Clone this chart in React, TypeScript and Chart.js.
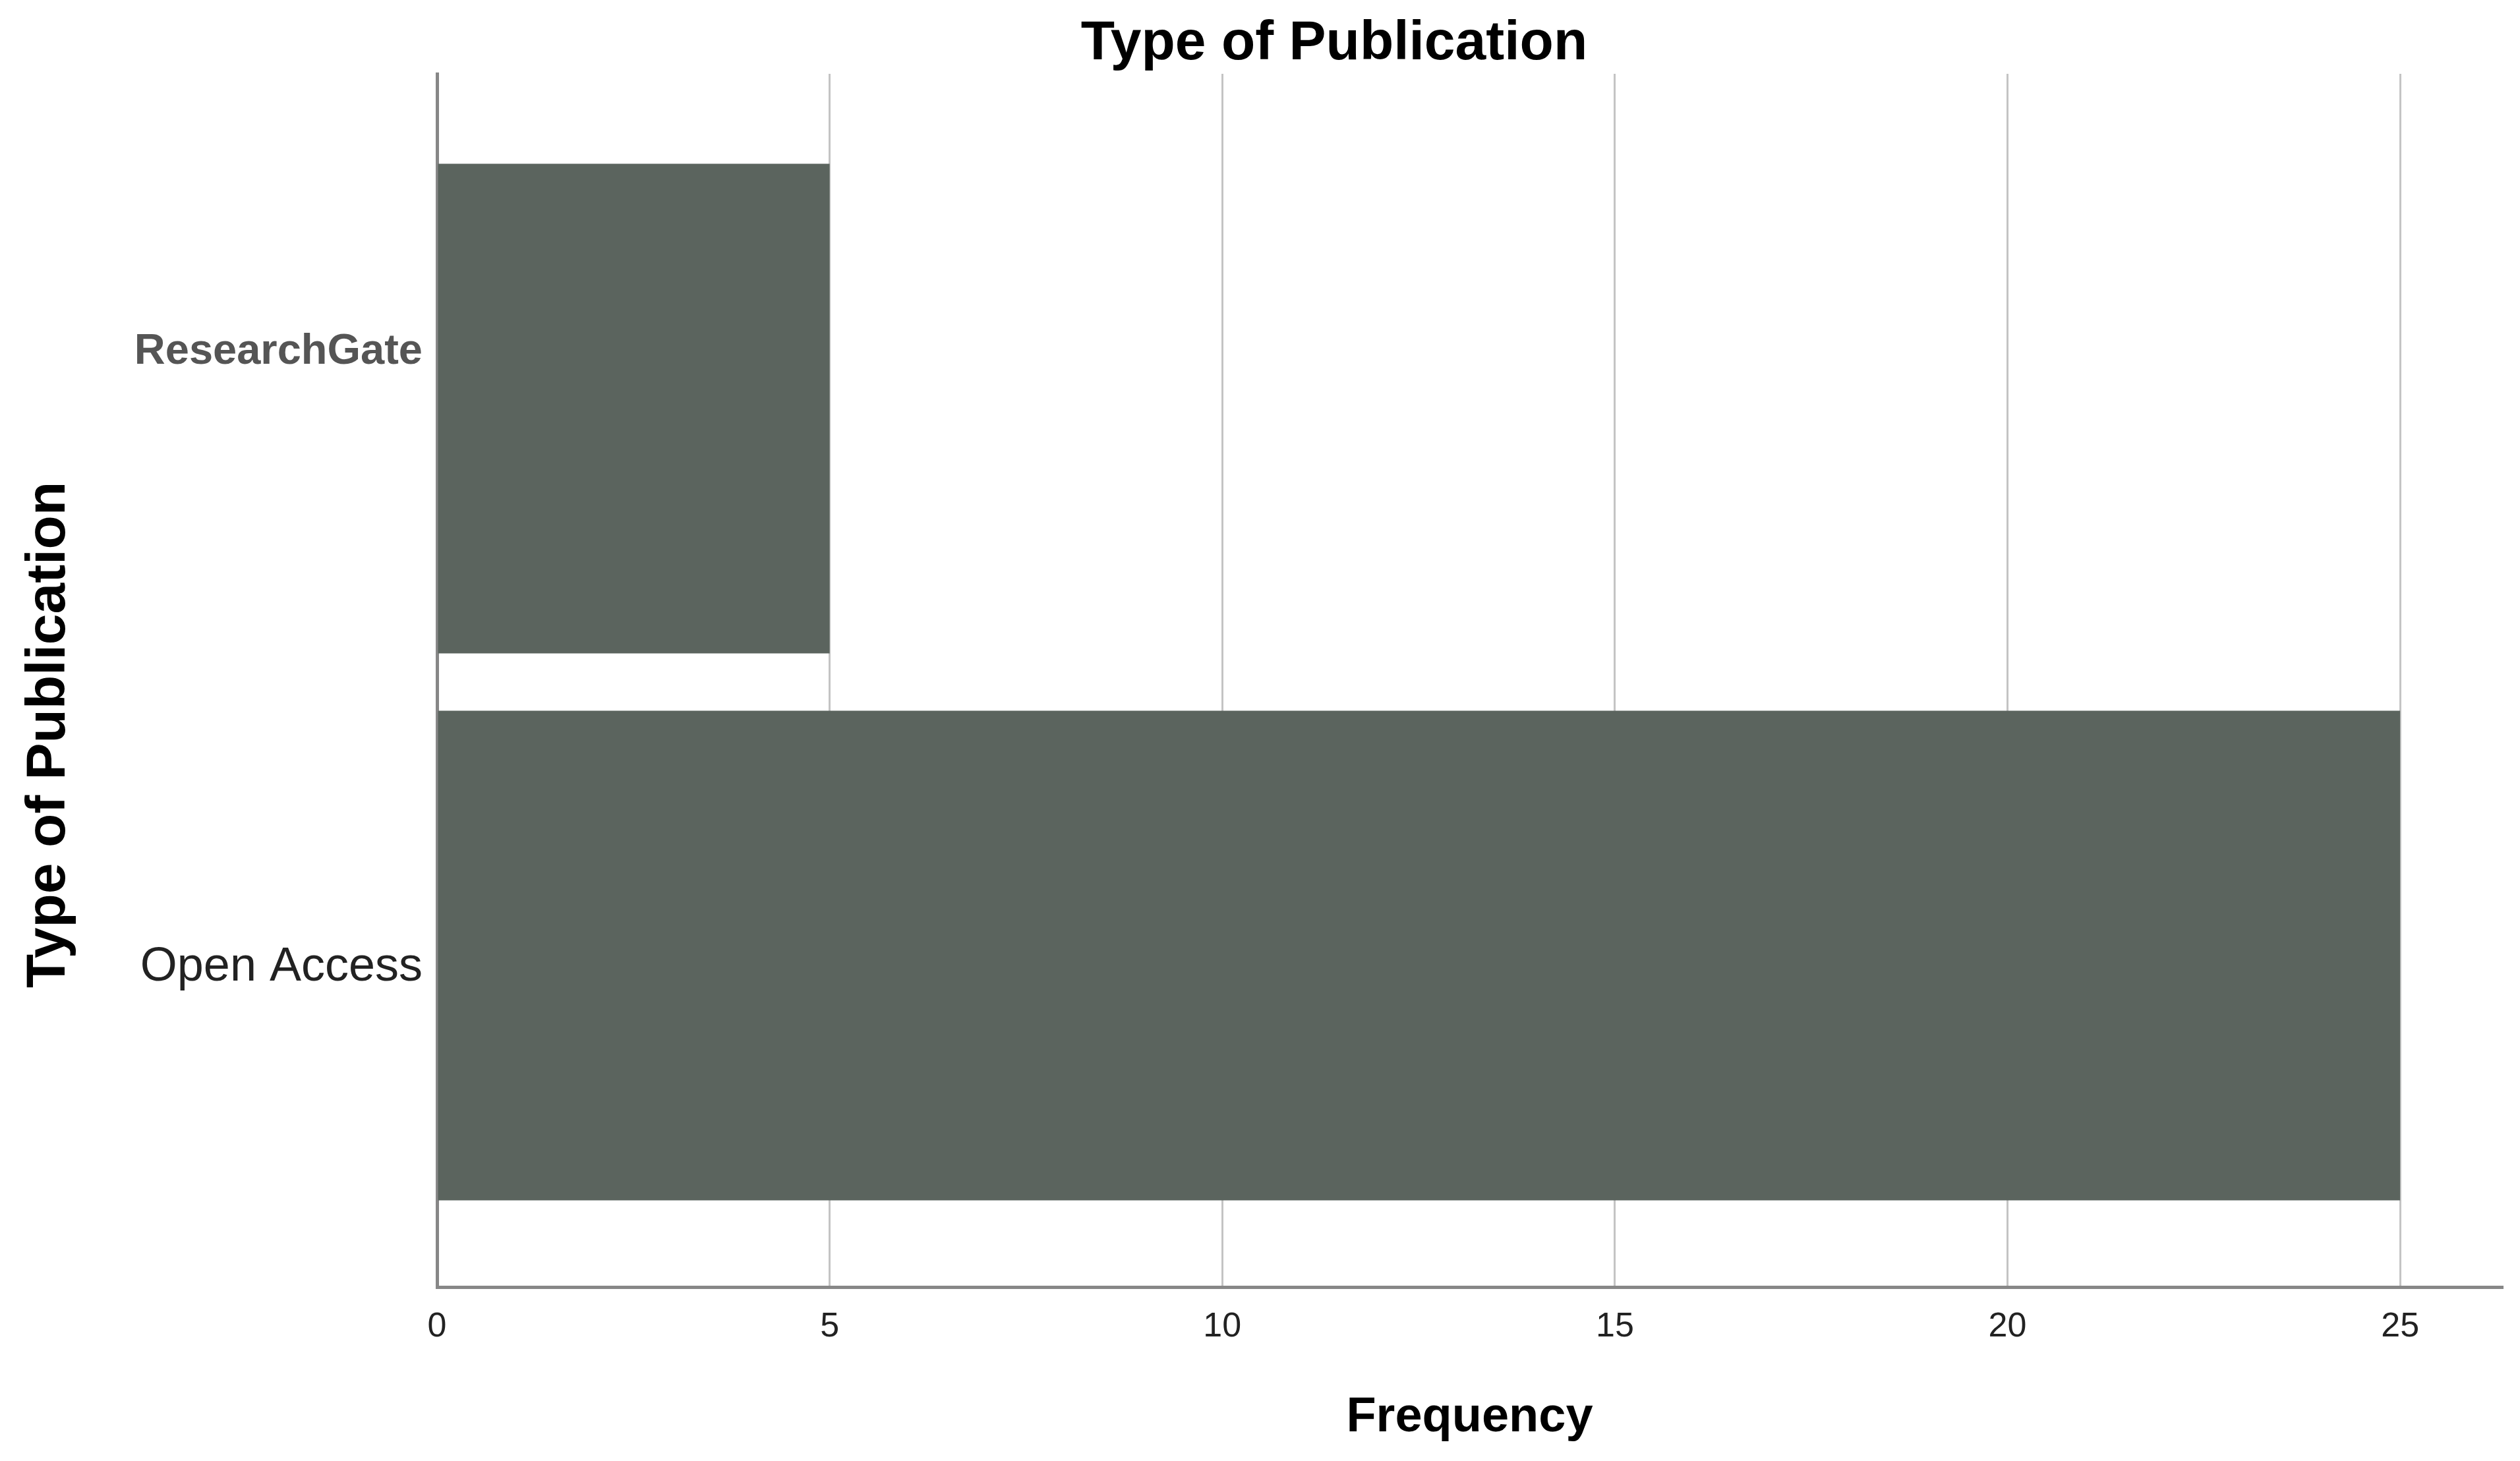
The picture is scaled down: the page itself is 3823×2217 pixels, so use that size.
import React, { useEffect, useRef } from 'react';
import { Chart, registerables } from 'chart.js';

Chart.register(...registerables);

const categories = ['ResearchGate', 'Open Access'];
const frequencies = [5, 25];
const xTicks = [0, 5, 10, 15, 20, 25];
// vertical placement of each category label relative to its bar centre (category units)
const labelShift = [-0.104, 0.022];

const W = 3823;
const H = 2217;
const FONT = '"Liberation Sans", Arial, sans-serif';

export default function App() {
  const ref = useRef<HTMLCanvasElement>(null);

  useEffect(() => {
    if (!ref.current) return;
    const titlePlugin = {
      id: 'titles',
      afterDraw(chart: any) {
        const ctx = chart.ctx;
        ctx.save();
        ctx.fillStyle = '#000';
        ctx.font = `bold 84px ${FONT}`;
        ctx.textAlign = 'center';
        ctx.textBaseline = 'alphabetic';
        ctx.fillText('Type of Publication', 2024, 90);
        ctx.translate(98, 1115);
        ctx.rotate(-Math.PI / 2);
        ctx.fillText('Type of Publication', 0, 0);
        ctx.restore();
      },
    };

    const chart = new Chart(ref.current, {
      type: 'bar',
      data: {
        datasets: [
          {
            data: categories.map((c, i) => ({ x: frequencies[i], y: i })),
            backgroundColor: '#5b645e',
            borderWidth: 0,
            barPercentage: 0.895,
            categoryPercentage: 1,
          } as any,
        ],
      },
      options: {
        indexAxis: 'y',
        animation: false,
        responsive: false,
        devicePixelRatio: 1,
        layout: { padding: { top: 112, right: 27, bottom: 0, left: 0 } },
        plugins: {
          legend: { display: false },
          tooltip: { enabled: false },
          title: { display: false },
        },
        scales: {
          x: {
            type: 'linear',
            position: 'bottom',
            min: 0,
            max: 26.3,
            offset: false,
            afterBuildTicks: (s: any) => {
              s.ticks = xTicks.map((v) => ({ value: v }));
            },
            afterFit: (s: any) => {
              s.height = H - 1953;
            },
            grid: { color: '#c4c4c4', lineWidth: 3, drawTicks: false },
            border: { display: true, color: '#878787', width: 5 },
            ticks: {
              padding: 29,
              color: '#222',
              font: { family: FONT, size: 52 },
            },
            title: {
              display: true,
              text: 'Frequency',
              color: '#000',
              font: { family: FONT, size: 74, weight: 'bold', lineHeight: 1.2 },
              padding: { top: 0, bottom: 21 },
            },
          },
          y: {
            type: 'linear',
            reverse: true,
            offset: false,
            min: -0.612,
            max: 1.606,
            afterBuildTicks: (s: any) => {
              s.ticks = categories.map((c, i) => ({ value: i + labelShift[i] }));
            },
            afterFit: (s: any) => {
              s.width = 663;
            },
            grid: { display: false, drawTicks: false, tickLength: 0, offset: false },
            border: { display: true, color: '#878787', width: 5 },
            ticks: {
              padding: 22,
              autoSkip: false,
              callback: (v: any, i: number) => categories[i],
              color: (ctx: any) => (ctx.index === 0 ? '#555' : '#222'),
              font: (ctx: any) =>
                ctx.index === 0
                  ? { family: FONT, size: 65, weight: 'bold' }
                  : { family: FONT, size: 72, weight: 'normal' },
            },
          },
        },
      } as any,
      plugins: [titlePlugin],
    });

    return () => chart.destroy();
  }, []);

  return (
    <div style={{ position: 'fixed', left: 0, top: 0, width: W, height: H, background: '#fff' }}>
      <canvas ref={ref} width={W} height={H} style={{ display: 'block', width: W, height: H }} />
    </div>
  );
}
